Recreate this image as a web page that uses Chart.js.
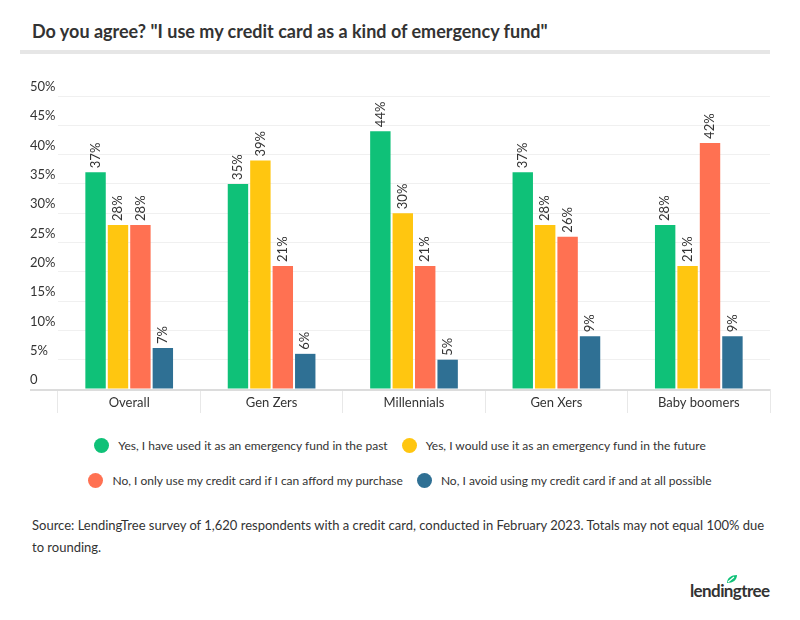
<!DOCTYPE html>
<html lang="en">
<head>
<meta charset="UTF-8">
<title>Credit card as emergency fund</title>
<script src="https://cdn.jsdelivr.net/npm/chart.js"></script>
<style>
  body { margin: 0; width: 800px; height: 620px; background: #fff; font-family: Lato, "Open Sans", sans-serif; color: #333; position: relative; overflow: hidden; }
  h1 { position: absolute; left: 32px; top: 20px; margin: 0; font-size: 18px; font-weight: bold; color: #333; white-space: nowrap; }
  .rule { position: absolute; left: 20px; top: 50px; width: 750px; height: 4px; background: #e6e6e6; }
  #chart-box { position: absolute; left: 0; top: 60px; width: 800px; height: 360px; }
  #legend { position: absolute; left: 0; top: 434px; width: 800px; font-size: 12px; color: #333; }
  .row { display: flex; justify-content: center; align-items: center; height: 22px; margin-bottom: 13px; }
  .item { display: flex; align-items: center; margin: 0 7px; }
  .dot { width: 15px; height: 15px; border-radius: 50%; margin-right: 9px; }
  .source { position: absolute; left: 32px; top: 514px; width: 740px; font-size: 13px; line-height: 22px; color: #333; }
  .logo { position: absolute; left: 690px; top: 580px; font-size: 17px; font-weight: bold; color: #333; letter-spacing: -0.6px; }
  .logo svg { position: absolute; left: 36px; top: -6px; }
</style>
</head>
<body>
<h1>Do you agree? "I use my credit card as a kind of emergency fund"</h1>
<div class="rule"></div>
<div id="chart-box"><canvas id="chart"></canvas></div>
<div id="legend"></div>
<div class="source">Source: LendingTree survey of 1,620 respondents with a credit card, conducted in February 2023. Totals may not equal 100% due to rounding.</div>
<div class="logo">lendingtree<svg width="12" height="10" viewBox="0 0 12 10"><path d="M1 9 C1 4 5 1 11 1 C11 6 7 9 1 9 Z" fill="#0fc178"/><path d="M2 8 L8 3" stroke="#fff" stroke-width="1.2"/></svg></div>

<script>
const categories = ['Overall', 'Gen Zers', 'Millennials', 'Gen Xers', 'Baby boomers'];
const seriesNames = [
  'Yes, I have used it as an emergency fund in the past',
  'Yes, I would use it as an emergency fund in the future',
  'No, I only use my credit card if I can afford my purchase',
  'No, I avoid using my credit card if and at all possible'
];
const usedPast = [37, 35, 44, 37, 28];
const wouldUse = [28, 39, 30, 28, 21];
const affordOnly = [28, 21, 21, 26, 42];
const avoidUsing = [7, 6, 5, 9, 9];
const colors = ['#0fc178', '#ffc610', '#ff7152', '#2f7094'];

const allSeries = [usedPast, wouldUse, affordOnly, avoidUsing];

// legend rows: two items per row
const legend = document.getElementById('legend');
for (let r = 0; r < 2; r++) {
  const row = document.createElement('div');
  row.className = 'row';
  for (let i = r * 2; i < r * 2 + 2; i++) {
    row.innerHTML += '<div class="item"><span class="dot" style="background:' + colors[i] + '"></span>' + seriesNames[i] + '</div>';
  }
  legend.appendChild(row);
}

// value labels above bars, rotated
const barLabels = {
  id: 'barLabels',
  afterDatasetsDraw(chart) {
    const ctx = chart.ctx;
    ctx.save();
    ctx.font = '13px Lato';
    ctx.fillStyle = '#333';
    ctx.textAlign = 'left';
    ctx.textBaseline = 'middle';
    chart.data.datasets.forEach((ds, i) => {
      chart.getDatasetMeta(i).data.forEach((bar, j) => {
        ctx.save();
        ctx.translate(bar.x, bar.y - 4);
        ctx.rotate(-Math.PI / 2);
        ctx.fillText(ds.data[j] + '%', 0, 0);
        ctx.restore();
      });
    });
    ctx.restore();
  }
};

// baseline that runs under the y labels too
const baseLine = {
  id: 'baseLine',
  afterDraw(chart) {
    const ctx = chart.ctx;
    const y = chart.scales.y.getPixelForValue(0);
    ctx.save();
    ctx.strokeStyle = '#dcdcdc';
    ctx.lineWidth = 2;
    ctx.beginPath();
    ctx.moveTo(30, y + 1);
    ctx.lineTo(chart.chartArea.right, y + 1);
    ctx.stroke();
    ctx.restore();
  }
};

const ctx = document.getElementById('chart').getContext('2d');
const chart = new Chart(ctx, {
  type: 'bar',
  data: {
    labels: categories,
    datasets: allSeries.map((vals, i) => ({
      label: seriesNames[i],
      data: vals,
      backgroundColor: colors[i],
      categoryPercentage: 0.63,
      barPercentage: 0.91
    }))
  },
  options: {
    responsive: true,
    maintainAspectRatio: false,
    animation: false,
    layout: { padding: { left: 30, right: 30, top: 36, bottom: 0 } },
    plugins: {
      legend: { display: false },
      tooltip: { enabled: false }
    },
    scales: {
      x: {
        grid: { drawOnChartArea: false, drawTicks: true, tickLength: 24, color: '#e8e8e8', offset: true },
        border: { display: false },
        ticks: { font: { family: 'Lato', size: 13 }, color: '#333', padding: -18 },
        afterFit: s => { s.height = 31; }
      },
      y: {
        min: 0,
        max: 50,
        grid: { color: '#f0f0f0', drawTicks: false },
        border: { display: false },
        ticks: {
          stepSize: 5,
          crossAlign: 'far',
          labelOffset: -9,
          font: { family: 'Lato', size: 13 },
          color: '#333',
          callback: v => v === 0 ? '0' : v + '%'
        },
        afterFit: s => { s.width = 28; }
      }
    }
  },
  plugins: [barLabels, baseLine]
});
</script>
</body>
</html>
